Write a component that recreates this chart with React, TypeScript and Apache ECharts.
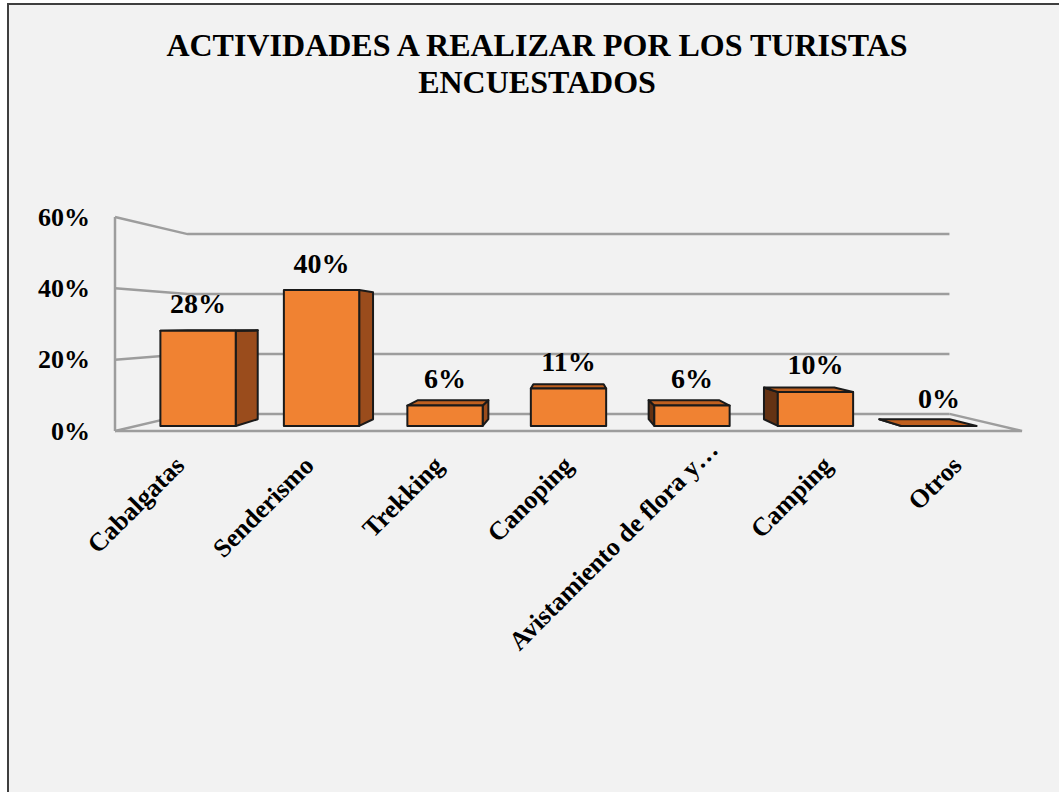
import React, { useEffect, useRef } from "react";
import * as echarts from "echarts";

const titleLines = ["ACTIVIDADES A REALIZAR POR LOS TURISTAS", "ENCUESTADOS"];
const categories = [
  "Cabalgatas",
  "Senderismo",
  "Trekking",
  "Canoping",
  "Avistamiento de flora y…",
  "Camping",
  "Otros",
];
const values = [0.28, 0.4, 0.06, 0.11, 0.06, 0.1, 0.0];
const yTicks = [0, 0.2, 0.4, 0.6];

const FONT = '"Liberation Serif", "Times New Roman", serif';
const S_BACK = 0.84;
const S_BAR_FRONT = 0.953;
const S_BAR_BACK = 0.89;
const BAR_RATIO = 0.61;

export default function App() {
  const ref = useRef<HTMLDivElement>(null);

  useEffect(() => {
    if (!ref.current) return;
    const chart = echarts.init(ref.current, undefined, { renderer: "svg" });

    const proj = (vx: number, vy: number, x: number, y: number, s: number) => [
      vx + s * (x - vx),
      vy + s * (y - vy),
    ];

    const wallItem = (params: any, api: any) => {
      const cs = params.coordSys;
      const vx = cs.x + cs.width / 2;
      const vy = cs.y + cs.height / 2;
      const t = api.value(1);
      const y = api.coord([0, t])[1];
      const y0 = api.coord([0, 0])[1];
      const xL = cs.x;
      const xR = cs.x + cs.width;
      const st = { stroke: "#9d9d9d", lineWidth: 2.5, fill: "none" };
      const bl = proj(vx, vy, xL, y, S_BACK);
      const br = proj(vx, vy, xR, y, S_BACK);
      const children: any[] = [
        { type: "polyline", shape: { points: [[xL, y], bl, br] }, style: st },
      ];
      if (t === 0) {
        children.push({
          type: "polyline",
          shape: { points: [[xL, y0], [xR, y0], proj(vx, vy, xR, y0, S_BACK)] },
          style: st,
        });
      }
      if (t === yTicks[yTicks.length - 1]) {
        children.push({
          type: "line",
          shape: { x1: xL, y1: y, x2: xL, y2: y0 },
          style: st,
        });
      }
      return { type: "group", children };
    };

    const barItem = (params: any, api: any) => {
      const cs = params.coordSys;
      const vx = cs.x + cs.width / 2;
      const vy = cs.y + cs.height / 2;
      const i = api.value(0);
      const v = api.value(1);
      const c = api.coord([i, v]);
      const c0 = api.coord([i, 0]);
      const bw = api.size([1, 0])[0] * BAR_RATIO;
      const xl = c[0] - bw / 2;
      const xr = c[0] + bw / 2;
      const fTL = proj(vx, vy, xl, c[1], S_BAR_FRONT);
      const fTR = proj(vx, vy, xr, c[1], S_BAR_FRONT);
      const fBL = proj(vx, vy, xl, c0[1], S_BAR_FRONT);
      const fBR = proj(vx, vy, xr, c0[1], S_BAR_FRONT);
      const bTL = proj(vx, vy, xl, c[1], S_BAR_BACK);
      const bTR = proj(vx, vy, xr, c[1], S_BAR_BACK);
      const bBL = proj(vx, vy, xl, c0[1], S_BAR_BACK);
      const bBR = proj(vx, vy, xr, c0[1], S_BAR_BACK);
      const edge = { stroke: "#1a1a1a", lineWidth: 2, lineJoin: "round" };
      const children: any[] = [];
      if (xr < vx) {
        children.push({
          type: "polygon",
          shape: { points: [fTR, bTR, bBR, fBR] },
          style: { ...edge, fill: "#9a4c1c" },
        });
      } else if (xl > vx) {
        children.push({
          type: "polygon",
          shape: { points: [fTL, bTL, bBL, fBL] },
          style: { ...edge, fill: "#643213" },
        });
      }
      if (c[1] > vy) {
        children.push({
          type: "polygon",
          shape: { points: [fTL, fTR, bTR, bTL] },
          style: { ...edge, fill: "#c0601f" },
        });
      }
      if (fBL[1] - fTL[1] > 0.5) {
        children.push({
          type: "polygon",
          shape: { points: [fTL, fTR, fBR, fBL] },
          style: { ...edge, fill: "#f08232" },
        });
      }
      children.push({
        type: "text",
        style: {
          text: Math.round(v * 100) + "%",
          x: (fTL[0] + fTR[0]) / 2,
          y: fTL[1] - 27,
          fill: "#000",
          font: `bold 28px ${FONT}`,
          textAlign: "center",
          textVerticalAlign: "middle",
          align: "center",
          verticalAlign: "middle",
        },
      });
      return { type: "group", children };
    };

    const xData = categories.map((c) =>
      c.endsWith("…") ? { value: c, textStyle: { padding: [0, -22, 0, 0] } } : c
    );

    chart.setOption({
      animation: false,
      backgroundColor: "#ffffff",
      graphic: [
        {
          type: "rect",
          z: -100,
          shape: { x: 8, y: 4, width: 1100, height: 900 },
          style: { fill: "#f2f2f2", stroke: "#3f3f3f", lineWidth: 2 },
        },
        {
          type: "text",
          z: 10,
          x: 537,
          y: 45,
          style: {
            text: titleLines[0],
            font: `bold 32px ${FONT}`,
            fill: "#000",
            textAlign: "center",
            textVerticalAlign: "middle",
            align: "center",
            verticalAlign: "middle",
          },
        },
        {
          type: "text",
          z: 10,
          x: 537,
          y: 82,
          style: {
            text: titleLines[1],
            font: `bold 32px ${FONT}`,
            fill: "#000",
            textAlign: "center",
            textVerticalAlign: "middle",
            align: "center",
            verticalAlign: "middle",
          },
        },
      ],
      grid: { left: 115, right: 37, top: 217, height: 214 },
      xAxis: {
        type: "category",
        data: xData,
        axisLine: { show: false },
        axisTick: { show: false },
        splitLine: { show: false },
        axisLabel: {
          interval: 0,
          rotate: 45,
          margin: 30,
          color: "#000",
          fontFamily: FONT,
          fontWeight: "bold",
          fontSize: 26,
        },
      },
      yAxis: {
        type: "value",
        min: 0,
        max: 0.6,
        interval: 0.2,
        axisLine: { show: false },
        axisTick: { show: false },
        splitLine: { show: false },
        axisLabel: {
          margin: 25,
          color: "#000",
          fontFamily: FONT,
          fontWeight: "bold",
          fontSize: 26,
          formatter: (val: number) => Math.round(val * 100) + "%",
        },
      },
      series: [
        {
          type: "custom",
          name: "walls",
          z: 1,
          silent: true,
          renderItem: wallItem,
          encode: { x: 0, y: 1 },
          data: yTicks.map((t) => [0, t]),
        },
        {
          type: "custom",
          name: "Actividades",
          z: 2,
          renderItem: barItem,
          encode: { x: 0, y: 1 },
          data: values.map((v, i) => [i, v]),
        },
      ],
    });

    return () => chart.dispose();
  }, []);

  return (
    <div
      ref={ref}
      style={{ position: "absolute", left: 0, top: 0, width: 1059, height: 792 }}
    />
  );
}
